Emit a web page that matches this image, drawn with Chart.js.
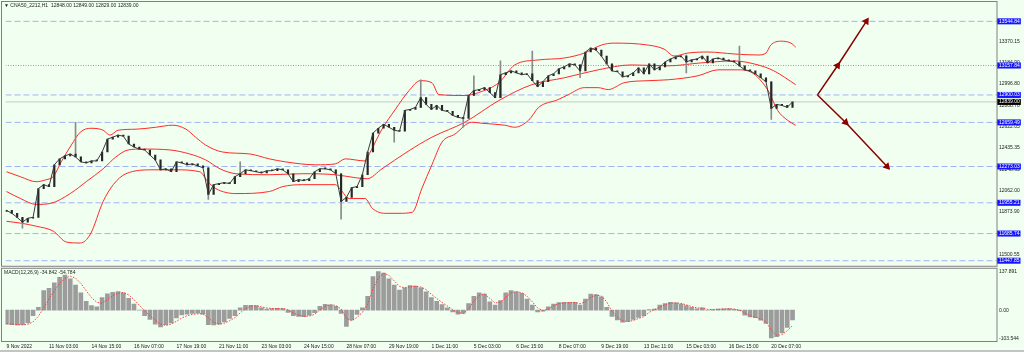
<!DOCTYPE html>
<html>
<head>
<meta charset="utf-8">
<script src="https://cdn.jsdelivr.net/npm/chart.js@4.4.1/dist/chart.umd.min.js"></script>
<style>
  html, body { margin: 0; padding: 0; background: #f0fff0; }
  canvas { display: block; }
</style>
</head>
<body>
<canvas id="chart" width="1024" height="352"></canvas>
<script>
// Data
const symbolTitle = "\u25BC CNA50_2212,H1  12848.00 12849.00 12829.00 12839.00";
const macdTitle = "MACD(12,26,9) -34.842 -54.784";

const timeLabels = ["9 Nov 2022", "11 Nov 03:00", "14 Nov 15:00", "16 Nov 07:00", "17 Nov 19:00",
    "21 Nov 11:00", "23 Nov 03:00", "24 Nov 15:00", "28 Nov 07:00", "29 Nov 19:00", "1 Dec 11:00",
    "5 Dec 03:00", "6 Dec 15:00", "8 Dec 07:00", "9 Dec 19:00", "13 Dec 11:00", "15 Dec 03:00",
    "16 Dec 15:00", "20 Dec 07:00"];
const timeLabelBars = [0, 8, 16, 24, 32, 40, 48, 56, 64, 72, 80, 88, 96, 104, 112, 120, 128, 136, 144];

const firstOpen = 11880;
const closes = [
    11889, 11863, 11828, 11785, 11820, 11828, 12080, 12114, 12097, 12288,
    12340, 12366, 12383, 12357, 12314, 12305, 12322, 12322, 12400, 12513,
    12530, 12548, 12539, 12470, 12444, 12426, 12418, 12374, 12331, 12244,
    12253, 12227, 12314, 12305, 12288, 12296, 12279, 12262, 12028, 12114,
    12123, 12132, 12123, 12184, 12210, 12244, 12236, 12227, 12218, 12236,
    12236, 12253, 12244, 12210, 12140, 12158, 12149, 12166, 12227, 12253,
    12253, 12244, 12210, 11967, 12002, 12088, 12097, 12201, 12400, 12565,
    12608, 12643, 12617, 12591, 12582, 12765, 12773, 12791, 12877, 12817,
    12773, 12808, 12765, 12756, 12721, 12704, 12695, 12895, 12938, 12947,
    12964, 12921, 12877, 13077, 13094, 13111, 13094, 13077, 13085, 13025,
    12973, 13016, 13068, 13085, 13129, 13146, 13172, 13163, 13111, 13276,
    13311, 13293, 13241, 13172, 13111, 13103, 13059, 13068, 13094, 13137,
    13085, 13172, 13120, 13146, 13189, 13215, 13233, 13241, 13189, 13207,
    13215, 13241, 13181, 13215, 13224, 13207, 13198, 13190, 13155, 13120,
    13111, 13085, 13051, 13016, 12782, 12817, 12808, 12791, 12839
];
// [bar, low, high] for bars with visible wicks
const spikes = [
    [3, 11733, 11820], [13, 12357, 12660], [38, 11984, 12262], [44, 12210, 12314],
    [63, 11811, 12210], [73, 12487, 12617], [78, 12791, 13033], [86, 12617, 12704],
    [88, 12895, 13068], [93, 12877, 13198], [99, 13025, 13285], [108, 13051, 13163],
    [128, 13094, 13250], [138, 13155, 13328], [144, 12686, 13016]
];

// Bollinger bands, [bar, price]
const bbUpper = [[0, 12227], [2.6, 12184], [5.6, 12140], [7.5, 12158], [8.8, 12184], [10.3, 12314],
    [12.2, 12461], [13.9, 12574], [15.9, 12608], [18.2, 12591], [19.5, 12548], [21.0, 12591],
    [24.4, 12600], [28.1, 12617], [31.3, 12635], [33.8, 12600], [35.6, 12530], [37.5, 12461],
    [40.7, 12400], [45.8, 12383], [49.5, 12340], [52.5, 12314], [58.2, 12288], [61.9, 12296],
    [63.8, 12340], [67.5, 12322], [68.5, 12400], [70.7, 12600], [73.2, 12773], [75.8, 12938],
    [77.9, 13025], [80.1, 13007], [81.4, 12903], [86.3, 12895], [88.9, 12921], [92.7, 13007],
    [95.7, 13163], [100.2, 13207], [105.1, 13224], [108.8, 13267], [112.0, 13337], [114.4, 13354],
    [120.8, 13337], [123.8, 13302], [125.7, 13241], [128.3, 13267], [132.1, 13276], [137.0, 13259],
    [141.5, 13250], [143.0, 13267], [143.9, 13337], [145.8, 13371], [147.7, 13354], [148.6, 13319]];
const bbMiddle = [[0, 12054], [2.6, 11993], [5.6, 11941], [8.3, 11950], [12.0, 12036], [15.0, 12140],
    [18.2, 12253], [20.6, 12357], [22.9, 12418], [25.7, 12426], [30.8, 12418], [34.5, 12383],
    [37.5, 12331], [40.2, 12253], [43.2, 12210], [49.5, 12201], [55.7, 12210], [61.9, 12201],
    [65.7, 12175], [67.9, 12166], [70.7, 12253], [75.4, 12400], [80.1, 12530], [86.3, 12661],
    [92.7, 12851], [98.9, 12990], [105.1, 13051], [111.4, 13120], [117.6, 13163], [124.6, 13155],
    [130.8, 13181], [137.0, 13198], [141.5, 13163], [144.5, 13111], [148.6, 12990]];
const bbLower = [[0, 11793], [2.8, 11776], [5.6, 11750], [8.8, 11707], [11.3, 11611], [13.9, 11603],
    [15.8, 11681], [18.2, 11967], [20.1, 12114], [22.5, 12210], [27.6, 12244], [31.9, 12244],
    [36.4, 12227], [37.9, 12140], [39.4, 12080], [43.2, 12036], [49.5, 12054], [52.0, 12097],
    [55.7, 12114], [61.9, 12114], [62.9, 12071], [64.5, 11993], [67.5, 11993], [68.9, 11906],
    [71.3, 11863], [73.9, 11863], [76.4, 11872], [78.2, 12080], [80.1, 12288], [82.0, 12487],
    [84.4, 12556], [87.6, 12661], [89.5, 12652], [93.8, 12635], [95.7, 12617], [98.3, 12678],
    [100.2, 12791], [103.9, 12860], [105.8, 12903], [108.8, 12964], [111.4, 12964], [113.3, 12947],
    [116.3, 13007], [120.8, 13025], [124.6, 13033], [130.2, 13068], [134.0, 13120], [137.7, 13120],
    [139.6, 13111], [143.3, 12947], [145.2, 12764], [147.1, 12677], [148.6, 12634]];

const macdHist = [
    -50, -52, -53, -52, -46, -20, 10, 70, 78, 98,
    118, 126, 112, 90, 62, 32, 16, 12, 45, 59,
    64, 67, 62, 42, 22, 0, -20, -33, -50, -60,
    -52, -46, -28, -17, -14, -12, -11, -14, -52, -53,
    -50, -42, -30, -20, 8, 17, 17, 16, 8, 4,
    6, 7, 6, -8, -20, -22, -23, -18, -9, 14,
    21, 19, 14, -12, -58, -35, -15, 8, 50, 120,
    138, 133, 112, 90, 72, 80, 88, 86, 80, 66,
    45, 32, 20, 8, -6, -14, -12, 24, 50, 62,
    58, 30, 18, 34, 62, 70, 66, 60, 40, 18,
    -6, -4, 12, 22, 27, 28, 28, 28, 18, 40,
    58, 56, 48, 10, -22, -35, -43, -40, -33, -26,
    -20, 2, 4, 18, 24, 28, 26, 22, 16, 10,
    5, 8, 0, 2, 4, 5, 6, 3, -2, -18,
    -24, -27, -36, -48, -100, -95, -82, -62, -35
];
const macdSignal = [
    -48, -50, -52, -53, -51, -42, -22, 8, 40, 70,
    95, 114, 122, 115, 96, 70, 45, 28, 25, 38,
    52, 61, 63, 55, 38, 18, -2, -20, -36, -50,
    -55, -50, -40, -28, -20, -15, -13, -13, -28, -44,
    -50, -47, -38, -27, -10, 6, 14, 16, 12, 8,
    6, 6, 6, 1, -10, -18, -22, -21, -15, 0,
    14, 19, 17, 4, -30, -38, -26, -8, 22, 75,
    115, 132, 125, 105, 85, 80, 84, 86, 83, 74,
    57, 42, 28, 15, 2, -8, -12, 4, 32, 52,
    58, 42, 26, 28, 46, 62, 66, 63, 50, 30,
    8, -2, 4, 16, 23, 26, 27, 28, 23, 30,
    46, 54, 51, 30, -4, -26, -38, -41, -37, -30,
    -23, -8, 2, 10, 20, 25, 26, 24, 19, 13,
    8, 7, 3, 2, 3, 4, 5, 4, 0, -10,
    -20, -25, -31, -42, -72, -90, -88, -74, -55
];

const levels = [13544.84, 12900.03, 12659.49, 12273.03, 11955.21, 11685.74, 11447.85];
const dottedLevel = 13157.84;
const bidPrice = 12839.00;
const priceTicks = [13370.15, 13184.90, 12996.80, 12808.70, 12622.05, 12435.35, 12248.65,
    12062.00, 11873.90, 11685.80, 11500.55];
const macdTicks = [137.891, 0, -103.544];
const macdTickLabels = ["137.891", "0.00", "-103.544"];

// Arrow paths, [bar, price]
const arrowUp = [[152.7, 12900.03], [156.5, 13157.84], [161.9, 13544.84]];
const arrowDown = [[152.7, 12900.03], [158.0, 12659.49], [165.8, 12273.03]];

// Layout
const xMin = -0.19;
const xMax = 186.5;
const tickFont = {family: "Liberation Sans", size: 5};

// Helpers
const toPoints = (pairs) => pairs.map(([x, y]) => ({x, y}));

const hLine = (value, color, dash) => ({
    type: "line",
    yAxisID: "yPrice",
    data: [{x: xMin, y: value}, {x: xMax, y: value}],
    borderColor: color,
    borderDash: dash,
    borderWidth: 1,
    pointRadius: 0
});

const arrowRotation = (ctx) => {
    const i = ctx.dataIndex;
    if (!i) return 0;
    const pts = ctx.dataset.data;
    const sx = ctx.chart.scales.x, sy = ctx.chart.scales.yPrice;
    const dx = sx.getPixelForValue(pts[i].x) - sx.getPixelForValue(pts[i - 1].x);
    const dy = sy.getPixelForValue(pts[i].y) - sy.getPixelForValue(pts[i - 1].y);
    return Math.atan2(dx, -dy) * 180 / Math.PI;
};

const arrowSet = (pairs) => ({
    type: "line",
    yAxisID: "yPrice",
    data: toPoints(pairs),
    borderColor: "#8b0000",
    borderWidth: 1.5,
    pointStyle: "triangle",
    pointRadius: (ctx) => ctx.dataIndex ? 3 : 0,
    pointRotation: arrowRotation,
    pointBackgroundColor: "#8b0000",
    pointBorderColor: "#8b0000"
});

const bandSet = (pairs) => ({
    type: "line",
    yAxisID: "yPrice",
    data: toPoints(pairs),
    borderColor: "#ff2a2a",
    borderWidth: 1,
    pointRadius: 0,
    cubicInterpolationMode: "monotone"
});

// Frames and texts
const panelPlugin = {
    id: "panels",
    beforeDraw(chart) {
        const {ctx, width, height} = chart;
        ctx.save();
        ctx.fillStyle = "#f0fff0";
        ctx.fillRect(0, 0, width, height);
        ctx.restore();
    },
    afterDraw(chart) {
        const {ctx, chartArea} = chart;
        const yP = chart.scales.yPrice, yM = chart.scales.yMacd;
        ctx.save();
        ctx.strokeStyle = "#808080";
        ctx.lineWidth = 1;
        ctx.strokeRect(1.5, 1.5, chartArea.right - 1.5, yP.bottom - 2);
        ctx.strokeRect(1.5, yM.top + 1.5, chartArea.right - 1.5, yM.bottom - yM.top - 1);
        ctx.strokeStyle = "#c4c4c4";
        ctx.lineWidth = 2;
        ctx.beginPath();
        ctx.moveTo(0, 351);
        ctx.lineTo(1024, 351);
        ctx.stroke();
        ctx.fillStyle = "#1e1e1e";
        ctx.font = '5px "Liberation Sans"';
        ctx.textBaseline = "middle";
        ctx.fillText(symbolTitle, 4, 6);
        ctx.fillText(macdTitle, 4, yM.top + 6);
        ctx.restore();
    }
};

const boxColor = (value) => {
    if (value === bidPrice) return "#000000";
    if (levels.includes(value) || value === dottedLevel) return "#1414ff";
    return "rgba(0,0,0,0)";
};

const priceAxisTicks = [...priceTicks, ...levels, dottedLevel, bidPrice];

new Chart(document.getElementById("chart"), {
    type: "line",
    data: {
        datasets: [
            arrowSet(arrowUp),
            arrowSet(arrowDown),
            {
                type: "line",
                yAxisID: "yPrice",
                data: closes.map((c, i) => ({x: i, y: c})),
                borderColor: "#3a3a3a",
                borderWidth: 1,
                pointRadius: 0
            },
            {
                type: "bar",
                yAxisID: "yPrice",
                data: closes.map((c, i) => ({x: i, y: [i ? closes[i - 1] : firstOpen, c]})),
                backgroundColor: "#262626",
                barThickness: 1.5,
                minBarLength: 1,
                grouped: false
            },
            {
                type: "bar",
                yAxisID: "yPrice",
                data: spikes.map(([x, lo, hi]) => ({x, y: [lo, hi]})),
                backgroundColor: "#8a8a8a",
                barThickness: 1,
                grouped: false
            },
            bandSet(bbUpper),
            bandSet(bbMiddle),
            bandSet(bbLower),
            {
                type: "line",
                yAxisID: "yMacd",
                data: macdSignal.map((v, i) => ({x: i, y: v})),
                borderColor: "#ff3a3a",
                borderWidth: 1,
                borderDash: [1.5, 1.5],
                pointRadius: 0
            },
            {
                type: "bar",
                yAxisID: "yMacd",
                data: macdHist.map((v, i) => ({x: i, y: v})),
                backgroundColor: "#9c9c9c",
                barThickness: 4,
                grouped: false
            },
            hLine(bidPrice, "#c8c8c8", []),
            hLine(dottedLevel, "#8a96ff", [1, 1.5]),
            ...levels.map(v => hLine(v, "rgba(110,128,248,0.6)", [6, 3]))
        ]
    },
    options: {
        responsive: false,
        animation: false,
        events: [],
        layout: {padding: {left: 2, top: 2, right: 0, bottom: 0}},
        plugins: {legend: {display: false}, tooltip: {enabled: false}},
        scales: {
            x: {
                type: "linear",
                position: "bottom",
                min: xMin,
                max: xMax,
                offset: false,
                grid: {display: false, drawTicks: false},
                border: {display: false},
                afterBuildTicks: (axis) => {
                    axis.ticks = timeLabelBars.map(v => ({value: v}));
                },
                afterFit: (axis) => { axis.height = 11; },
                ticks: {
                    autoSkip: false,
                    maxRotation: 0,
                    align: "start",
                    padding: 3,
                    font: tickFont,
                    color: "#202020",
                    callback: (v, i) => timeLabels[i]
                }
            },
            yPrice: {
                type: "linear",
                position: "right",
                stack: "pane",
                stackWeight: 264,
                min: 11394.7,
                max: 13683.6,
                bounds: "data",
                grid: {display: false, drawTicks: false},
                border: {display: false},
                afterBuildTicks: (axis) => {
                    axis.ticks = priceAxisTicks.map(v => ({value: v}));
                },
                afterFit: (axis) => { axis.width = 27; },
                ticks: {
                    autoSkip: false,
                    padding: 2,
                    font: tickFont,
                    showLabelBackdrop: true,
                    backdropPadding: {left: 2, right: 1, top: 0, bottom: 0},
                    backdropColor: (ctx) => boxColor(ctx.tick.value),
                    color: (ctx) => boxColor(ctx.tick.value) === "rgba(0,0,0,0)" ? "#202020" : "#ffffff",
                    callback: (v) => v.toFixed(2)
                }
            },
            yMacd: {
                type: "linear",
                position: "right",
                stack: "pane",
                stackWeight: 75,
                min: -110.6,
                max: 155.6,
                bounds: "data",
                grid: {display: false, drawTicks: false},
                border: {display: false},
                afterBuildTicks: (axis) => {
                    axis.ticks = macdTicks.map(v => ({value: v}));
                },
                afterFit: (axis) => { axis.width = 27; },
                ticks: {
                    autoSkip: false,
                    padding: 2,
                    font: tickFont,
                    color: "#202020",
                    callback: (v, i) => macdTickLabels[i]
                }
            }
        }
    },
    plugins: [panelPlugin]
});
</script>
</body>
</html>
